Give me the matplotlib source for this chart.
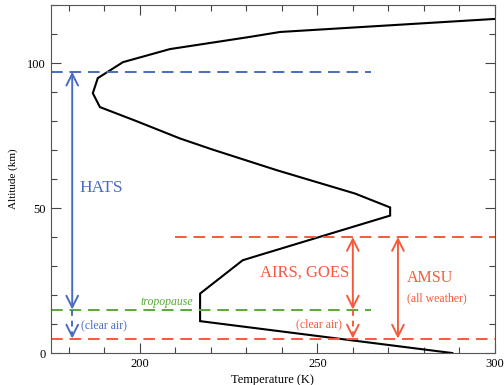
import matplotlib.pyplot as plt
import numpy as np

plt.rcParams['font.family'] = ['Liberation Serif', 'DejaVu Serif']

# perfil de temperatura (K) x altitude (km)
temperatura = [288, 217, 217, 229, 233, 270.5, 270.5, 260.6, 238.7, 220.4, 211.3, 199, 188.8, 186.8, 188.2, 195.3, 208.5, 231, 239.5, 300, 320]
altitude = [0, 11, 20.5, 32, 33.5, 47.4, 50.2, 55, 63, 70.2, 74, 80, 84.8, 89.6, 94.8, 100.3, 104.8, 109, 110.7, 115.2, 117]

# niveis das linhas tracejadas (km)
topo_hats = 97
tropopausa = 15
topo_airs = 40
limite_sup = 5

azul = '#4a6cc0'
vermelho = '#f55a3c'
verde = '#5aa83a'

fig = plt.figure(figsize=(5.04, 3.85), dpi=100)
ax = fig.add_axes([0.101, 0.083, 0.881, 0.904])

ax.plot(temperatura, altitude, color='black', linewidth=1.5, solid_joinstyle='miter')

dash = (0, (6, 3.5))
ax.plot([175, 265], [topo_hats, topo_hats], color=azul, linestyle=dash, linewidth=1.4)
ax.plot([175, 265], [tropopausa, tropopausa], color=verde, linestyle=dash, linewidth=1.4)
ax.plot([210, 300], [topo_airs, topo_airs], color=vermelho, linestyle=dash, linewidth=1.4)
ax.plot([175, 300], [limite_sup, limite_sup], color=vermelho, linestyle=dash, linewidth=1.4)


def seta(x, y0, y1, cor, estilo):
    ax.annotate('', xy=(x, y1), xytext=(x, y0),
                arrowprops=dict(arrowstyle=estilo + ',head_width=0.3,head_length=0.6',
                                color=cor, lw=1.4, mutation_scale=14,
                                shrinkA=0, shrinkB=0))


def seta_tracejada(x, y0, y1, cor):
    ax.plot([x, x], [y0, y1 + 1], color=cor, linestyle=(0, (3, 2.5)), linewidth=1.4)
    seta(x, y1 + 1.5, y1, cor, '->')


# HATS
seta(181, tropopausa, topo_hats, azul, '<->')
seta_tracejada(181, tropopausa, limite_sup, azul)
ax.text(183, 57, 'HATS', color=azul, fontsize=12.5, va='center')
ax.text(183.5, 9.5, '(clear air)', color=azul, fontsize=8.5, va='center')
ax.text(215, 17.5, 'tropopause', color=verde, fontsize=8.5, style='italic', ha='right', va='center')

# AIRS, GOES
seta(260, tropopausa, topo_airs, vermelho, '<->')
seta_tracejada(260, tropopausa, limite_sup, vermelho)
ax.text(259, 27.7, 'AIRS, GOES', color=vermelho, fontsize=12, ha='right', va='center')
ax.text(250.5, 10, '(clear air)', color=vermelho, fontsize=8.5, ha='center', va='center')

# AMSU
seta(272.7, limite_sup, topo_airs, vermelho, '<->')
ax.text(275.3, 26, 'AMSU', color=vermelho, fontsize=11.5, va='center')
ax.text(275.3, 19, '(all weather)', color=vermelho, fontsize=8.5, va='center')

ax.set_xlim(175, 300)
ax.set_ylim(0, 120)
ax.set_xticks([200, 250, 300])
ax.set_xticks(np.arange(180, 300, 10), minor=True)
ax.set_yticks([0, 50, 100])
ax.set_yticks(np.arange(10, 121, 10), minor=True)
ax.tick_params(which='both', direction='in', top=True, right=True, labelsize=9, color='#444444')
ax.tick_params(which='major', length=7, width=0.8)
ax.tick_params(which='minor', length=4, width=0.8)
for s in ax.spines.values():
    s.set_color('#555555')
    s.set_linewidth(0.8)

ax.set_xlabel('Temperature (K)', fontsize=9, labelpad=3)
ax.set_ylabel('Altitude (km)', fontsize=8, labelpad=7)

plt.savefig('out.png', dpi=100)
